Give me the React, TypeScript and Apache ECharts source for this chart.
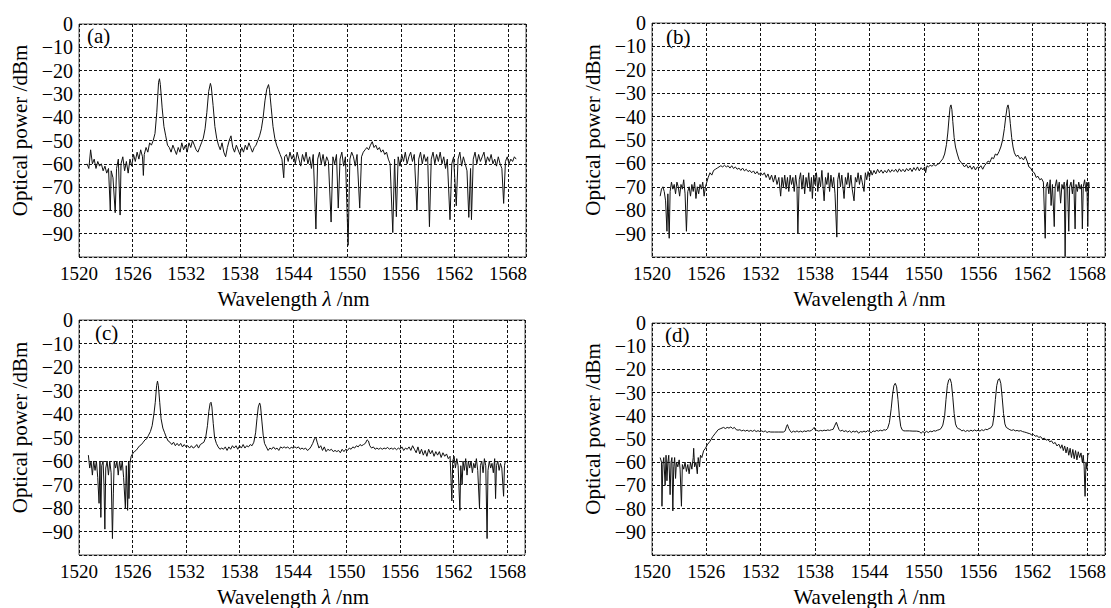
import React, { useEffect, useRef } from "react";
import * as echarts from "echarts";

const X_MIN = 1520;
const X_MAX = 1570;
const X_STEP = 6;
const Y_MIN = -100;
const Y_MAX = 0;
const Y_STEP = 10;
const PANEL_LABELS = ["(a)", "(b)", "(c)", "(d)"];
const X_NAME_PARTS = ["Wavelength ", "λ", " /nm"];
const Y_NAME = "Optical power /dBm";

const spectrumA: [number, number][] = [
  [1520.9, -60], [1521.1, -62], [1521.3, -54], [1521.5, -60], [1521.7, -58], [1521.9, -62], [1522.1, -59], [1522.3, -61],
  [1522.5, -60], [1522.7, -63], [1522.9, -61], [1523.1, -64], [1523.3, -62], [1523.5, -80], [1523.6, -63], [1523.8, -66],
  [1524.05, -81], [1524.2, -62], [1524.4, -58], [1524.6, -82], [1524.7, -60], [1524.9, -57], [1525.1, -63], [1525.3, -59],
  [1525.5, -64], [1525.7, -58], [1525.9, -61], [1526.1, -56], [1526.3, -59], [1526.5, -55], [1526.7, -58], [1526.9, -54],
  [1527.1, -57], [1527.2, -65], [1527.3, -56], [1527.5, -53], [1527.7, -55], [1527.9, -51], [1528.1, -52], [1528.3, -50],
  [1528.5, -47], [1528.7, -38], [1528.9, -25], [1529.0, -23.5], [1529.1, -26], [1529.3, -36], [1529.5, -44], [1529.7, -48],
  [1529.9, -52], [1530.1, -53], [1530.3, -55], [1530.5, -52], [1530.7, -54], [1530.9, -56], [1531.1, -53], [1531.3, -55],
  [1531.5, -51], [1531.7, -54], [1531.9, -52], [1532.1, -55], [1532.3, -51], [1532.5, -53], [1532.7, -50], [1532.9, -52],
  [1533.1, -54], [1533.3, -55], [1533.5, -53], [1533.7, -51], [1533.9, -49], [1534.1, -45], [1534.3, -38], [1534.5, -29],
  [1534.7, -25.5], [1534.8, -27], [1535.0, -35], [1535.2, -44], [1535.4, -49], [1535.6, -52], [1535.8, -54], [1536.0, -51],
  [1536.2, -55], [1536.4, -57], [1536.6, -53], [1536.8, -50], [1537.0, -48], [1537.2, -53], [1537.4, -55], [1537.6, -52],
  [1537.8, -54], [1538.0, -56], [1538.2, -53], [1538.4, -55], [1538.6, -52], [1538.8, -54], [1539.0, -51], [1539.2, -53],
  [1539.4, -55], [1539.6, -53], [1539.8, -52], [1540.0, -50], [1540.2, -48], [1540.4, -45], [1540.6, -40], [1540.8, -33],
  [1541.0, -28], [1541.2, -26], [1541.3, -28], [1541.5, -36], [1541.7, -44], [1541.9, -49], [1542.1, -52], [1542.3, -54],
  [1542.5, -56], [1542.7, -58], [1542.9, -66], [1543.0, -57], [1543.2, -56], [1543.4, -59], [1543.6, -55], [1543.8, -58],
  [1544.0, -56], [1544.2, -60], [1544.4, -55], [1544.6, -58], [1544.8, -61], [1545.0, -56], [1545.2, -59], [1545.4, -55],
  [1545.6, -60], [1545.8, -57], [1546.0, -62], [1546.2, -56], [1546.5, -88], [1546.7, -58], [1546.9, -55], [1547.1, -60],
  [1547.3, -56], [1547.5, -61], [1547.7, -57], [1547.9, -59], [1548.2, -85], [1548.4, -57], [1548.6, -60], [1548.8, -56],
  [1549.0, -79], [1549.2, -58], [1549.4, -55], [1549.6, -61], [1549.8, -57], [1550.1, -95], [1550.3, -58], [1550.5, -55],
  [1550.7, -57], [1550.9, -61], [1551.1, -56], [1551.4, -79], [1551.6, -57], [1551.8, -55], [1552.0, -54], [1552.2, -53],
  [1552.4, -54], [1552.6, -52], [1552.8, -50.5], [1553.0, -53], [1553.2, -52], [1553.4, -54], [1553.6, -53], [1553.8, -55],
  [1554.0, -54], [1554.2, -56], [1554.4, -55], [1554.6, -58], [1554.8, -60], [1555.1, -89.5], [1555.3, -58], [1555.5, -82.7],
  [1555.7, -57], [1555.9, -61], [1556.1, -56], [1556.3, -59], [1556.5, -55], [1556.7, -60], [1556.9, -57], [1557.1, -55],
  [1557.3, -59], [1557.5, -56], [1557.8, -80], [1558.0, -58], [1558.2, -55], [1558.4, -60], [1558.6, -56], [1558.8, -59],
  [1559.0, -57], [1559.2, -87], [1559.4, -58], [1559.6, -55], [1559.8, -60], [1560.0, -56], [1560.2, -59], [1560.4, -55],
  [1560.6, -60], [1560.8, -57], [1561.0, -62], [1561.2, -58], [1561.5, -84], [1561.7, -60], [1561.9, -57], [1562.2, -78],
  [1562.4, -58], [1562.6, -55], [1562.8, -61], [1563.0, -57], [1563.2, -60], [1563.4, -63], [1563.6, -83], [1563.8, -62],
  [1563.9, -84], [1564.1, -58], [1564.3, -55], [1564.5, -60], [1564.7, -56], [1564.9, -59], [1565.1, -57], [1565.3, -55],
  [1565.5, -60], [1565.7, -57], [1565.9, -59], [1566.1, -56], [1566.3, -60], [1566.5, -58], [1566.7, -61], [1566.9, -57],
  [1567.1, -60], [1567.3, -62], [1567.5, -77], [1567.7, -59], [1567.9, -57], [1568.1, -60], [1568.3, -58], [1568.5, -59],
  [1568.7, -57], [1568.9, -58],
];

const spectrumB: [number, number][] = [
  [1520.9, -74], [1521.05, -71], [1521.2, -70], [1521.35, -72], [1521.5, -76], [1521.65, -89], [1521.75, -73], [1521.9, -92],
  [1522.0, -72], [1522.15, -68], [1522.3, -71], [1522.45, -69], [1522.6, -73], [1522.75, -68], [1522.9, -70], [1523.05, -74],
  [1523.2, -69], [1523.35, -71], [1523.5, -67], [1523.65, -73], [1523.8, -89], [1523.95, -72], [1524.1, -70], [1524.25, -74],
  [1524.4, -69], [1524.55, -72], [1524.7, -68], [1524.85, -75], [1525.0, -70], [1525.15, -73], [1525.3, -69], [1525.45, -71],
  [1525.6, -68], [1525.75, -74], [1525.9, -70], [1526.05, -68], [1526.2, -66], [1526.4, -64], [1526.6, -65], [1526.8, -63],
  [1527.0, -62.5], [1527.2, -62], [1527.4, -61.5], [1527.6, -61], [1527.8, -61.5], [1528.0, -60.8], [1528.2, -61.5], [1528.4, -61],
  [1528.6, -62], [1528.8, -61], [1529.0, -62.2], [1529.2, -61.5], [1529.4, -62.5], [1529.6, -62], [1529.8, -63], [1530.0, -62],
  [1530.2, -63.2], [1530.4, -62.5], [1530.6, -63.5], [1530.8, -63], [1531.0, -64], [1531.2, -63.2], [1531.4, -64.5], [1531.6, -63.5],
  [1531.8, -64.8], [1532.0, -64], [1532.2, -65], [1532.4, -64], [1532.6, -66], [1532.8, -64.5], [1533.0, -67], [1533.2, -65],
  [1533.4, -68], [1533.6, -65], [1533.8, -69], [1534.0, -66], [1534.2, -74], [1534.35, -66], [1534.5, -70], [1534.65, -65],
  [1534.8, -71], [1534.95, -66], [1535.1, -72], [1535.25, -65], [1535.4, -69], [1535.55, -66], [1535.7, -72], [1535.85, -65],
  [1536.0, -70], [1536.1, -90], [1536.25, -67], [1536.4, -64], [1536.55, -71], [1536.7, -65], [1536.85, -73], [1537.0, -66],
  [1537.15, -70], [1537.3, -64], [1537.45, -72], [1537.6, -66], [1537.7, -75], [1537.85, -65], [1538.0, -69], [1538.15, -64],
  [1538.3, -72], [1538.45, -66], [1538.6, -70], [1538.75, -63], [1538.9, -71], [1539.0, -76], [1539.15, -66], [1539.3, -69],
  [1539.45, -64], [1539.6, -72], [1539.75, -65], [1539.9, -70], [1540.05, -66], [1540.2, -73], [1540.4, -91.5], [1540.5, -67],
  [1540.65, -64], [1540.8, -70], [1540.95, -65], [1541.1, -71], [1541.2, -75], [1541.35, -66], [1541.5, -69], [1541.65, -64],
  [1541.8, -70], [1541.95, -65], [1542.1, -71], [1542.3, -76], [1542.45, -66], [1542.6, -68], [1542.75, -64], [1542.9, -69],
  [1543.05, -65], [1543.2, -68], [1543.4, -72], [1543.55, -64], [1543.7, -67], [1543.85, -63.5], [1544.0, -66], [1544.15, -63],
  [1544.3, -65], [1544.5, -63], [1544.7, -64.5], [1544.9, -62.5], [1545.1, -64], [1545.3, -62.8], [1545.5, -64.2], [1545.7, -63],
  [1545.9, -64], [1546.1, -62.5], [1546.3, -63.8], [1546.5, -62.7], [1546.7, -63.5], [1546.9, -62.5], [1547.1, -63.8], [1547.3, -62.3],
  [1547.5, -63.5], [1547.7, -62.5], [1547.9, -63.6], [1548.1, -62.2], [1548.3, -63.2], [1548.5, -62], [1548.7, -63.5], [1548.9, -61.8],
  [1549.1, -63], [1549.3, -61.5], [1549.5, -63.2], [1549.7, -61.8], [1549.9, -62.8], [1550.1, -61.5], [1550.2, -64], [1550.35, -61],
  [1550.5, -61.5], [1550.7, -60.8], [1550.9, -61.2], [1551.1, -60.5], [1551.3, -61], [1551.5, -60.5], [1551.7, -60], [1551.9, -59],
  [1552.1, -58], [1552.3, -56], [1552.5, -52], [1552.65, -47], [1552.8, -40], [1552.9, -36], [1553.0, -35], [1553.1, -37],
  [1553.2, -42], [1553.35, -49], [1553.5, -53], [1553.7, -56], [1553.9, -58.5], [1554.1, -59.5], [1554.3, -60.5], [1554.5, -61.5],
  [1554.7, -60.5], [1554.9, -62], [1555.1, -61], [1555.3, -62.5], [1555.5, -61.2], [1555.7, -62.8], [1555.9, -61.5], [1556.1, -62],
  [1556.3, -61], [1556.5, -62.5], [1556.7, -61], [1556.9, -60], [1557.1, -59], [1557.3, -59.5], [1557.5, -57.5], [1557.7, -58],
  [1557.9, -56], [1558.1, -56.5], [1558.3, -55], [1558.5, -53], [1558.7, -50], [1558.9, -45], [1559.05, -40], [1559.2, -36],
  [1559.3, -35], [1559.4, -37], [1559.55, -43], [1559.7, -49], [1559.85, -53], [1560.0, -55.5], [1560.2, -57], [1560.4, -56.5],
  [1560.6, -58], [1560.8, -57.5], [1561.0, -58.5], [1561.2, -57], [1561.4, -59], [1561.6, -61.5], [1561.8, -62], [1562.0, -63.5],
  [1562.2, -64], [1562.4, -66], [1562.6, -65.5], [1562.8, -67], [1563.0, -66.5], [1563.2, -68], [1563.4, -92], [1563.5, -70],
  [1563.65, -68], [1563.8, -73], [1563.95, -67], [1564.05, -78], [1564.2, -69], [1564.4, -87], [1564.5, -70], [1564.65, -67],
  [1564.8, -72], [1564.95, -68], [1565.1, -77], [1565.25, -69], [1565.4, -71], [1565.5, -68], [1565.6, -99.8], [1565.7, -70],
  [1565.85, -67], [1566.0, -89], [1566.1, -70], [1566.25, -68], [1566.4, -73], [1566.55, -67], [1566.7, -88], [1566.8, -69],
  [1566.95, -72], [1567.1, -68], [1567.25, -71], [1567.4, -69], [1567.5, -88], [1567.6, -70], [1567.75, -67], [1567.9, -72],
  [1568.0, -68], [1568.1, -87], [1568.2, -68], [1568.25, -70],
];

const spectrumC: [number, number][] = [
  [1521.05, -57.5], [1521.2, -63], [1521.35, -60], [1521.5, -66], [1521.65, -60], [1521.8, -64], [1521.95, -60], [1522.1, -67],
  [1522.25, -78], [1522.35, -60], [1522.45, -84], [1522.55, -62], [1522.7, -60], [1522.8, -70], [1522.9, -89], [1523.0, -63],
  [1523.15, -60], [1523.3, -66], [1523.45, -60], [1523.6, -65], [1523.75, -93], [1523.85, -74], [1523.95, -60], [1524.1, -63],
  [1524.25, -60], [1524.4, -66], [1524.55, -60], [1524.7, -64], [1524.85, -60], [1525.0, -67], [1525.2, -80], [1525.3, -62],
  [1525.45, -81], [1525.55, -60], [1525.6, -76], [1525.7, -61], [1525.85, -58], [1526.0, -57], [1526.2, -56], [1526.4, -55.5],
  [1526.6, -54.5], [1526.8, -53.5], [1527.0, -53], [1527.2, -52], [1527.4, -51], [1527.6, -50.5], [1527.8, -49], [1528.0, -47.5],
  [1528.2, -45], [1528.4, -40], [1528.55, -35], [1528.7, -28], [1528.8, -26], [1528.9, -28], [1529.05, -35], [1529.2, -42],
  [1529.4, -46], [1529.6, -48], [1529.8, -50], [1530.0, -51.5], [1530.2, -52], [1530.4, -53], [1530.6, -52], [1530.8, -53.5],
  [1531.0, -52.5], [1531.2, -53.5], [1531.4, -52.5], [1531.6, -54], [1531.8, -53], [1532.0, -54], [1532.2, -53.5], [1532.4, -54.5],
  [1532.6, -53.5], [1532.8, -54.5], [1533.0, -54], [1533.2, -53], [1533.4, -54.5], [1533.6, -53], [1533.8, -52.5], [1534.0, -52],
  [1534.2, -50], [1534.4, -45], [1534.55, -39], [1534.7, -35.5], [1534.8, -35], [1534.9, -37], [1535.05, -44], [1535.2, -50],
  [1535.4, -52.5], [1535.6, -54], [1535.8, -55], [1536.0, -54.5], [1536.2, -55], [1536.4, -54], [1536.6, -55.5], [1536.8, -54],
  [1537.0, -55], [1537.2, -53.5], [1537.4, -54.5], [1537.6, -53.5], [1537.8, -55], [1538.0, -53.5], [1538.2, -54.5], [1538.4, -53],
  [1538.6, -54.5], [1538.8, -53.5], [1539.0, -54], [1539.2, -53], [1539.4, -53.5], [1539.6, -52], [1539.8, -48], [1539.95, -42],
  [1540.1, -37], [1540.25, -35.3], [1540.35, -36.5], [1540.5, -43], [1540.65, -49], [1540.8, -52.5], [1541.0, -54], [1541.2, -55.5],
  [1541.4, -54.5], [1541.6, -55], [1541.8, -54], [1542.0, -55], [1542.2, -54.5], [1542.4, -55.5], [1542.6, -54], [1542.8, -54.5],
  [1543.0, -54], [1543.2, -54.5], [1543.4, -54], [1543.6, -54.8], [1543.8, -54.2], [1544.0, -54.5], [1544.2, -54], [1544.4, -54.5],
  [1544.6, -54], [1544.8, -55], [1545.0, -54.5], [1545.2, -55], [1545.4, -54.5], [1545.6, -55.5], [1545.8, -55], [1546.0, -54],
  [1546.2, -52.5], [1546.4, -50.5], [1546.55, -50], [1546.7, -52], [1546.9, -54.5], [1547.1, -53.5], [1547.3, -55.5], [1547.5, -54],
  [1547.7, -56], [1547.9, -55], [1548.1, -55.5], [1548.3, -55], [1548.5, -56], [1548.7, -55.5], [1548.9, -56], [1549.1, -55.5],
  [1549.3, -56.5], [1549.5, -55], [1549.7, -56], [1549.9, -55], [1550.1, -55.5], [1550.3, -54.5], [1550.5, -55], [1550.7, -54],
  [1550.9, -54.5], [1551.1, -53.5], [1551.3, -54], [1551.5, -53], [1551.7, -53.5], [1551.9, -53], [1552.1, -52.5], [1552.3, -51],
  [1552.45, -51.5], [1552.6, -53.5], [1552.8, -54.5], [1553.0, -54], [1553.2, -55], [1553.4, -54.5], [1553.6, -55], [1553.8, -54.5],
  [1554.0, -55], [1554.2, -54.5], [1554.4, -54.8], [1554.6, -54.2], [1554.8, -55], [1555.0, -54.5], [1555.2, -55], [1555.4, -54.5],
  [1555.6, -55.2], [1555.8, -54.5], [1556.0, -55], [1556.2, -54], [1556.4, -55.5], [1556.6, -54.5], [1556.8, -55], [1557.0, -54],
  [1557.2, -55.5], [1557.4, -53.5], [1557.6, -55], [1557.8, -56.5], [1558.0, -54], [1558.2, -57], [1558.4, -55], [1558.6, -57.5],
  [1558.8, -55.5], [1559.0, -58], [1559.2, -55], [1559.4, -57], [1559.6, -55.5], [1559.8, -58], [1560.0, -56], [1560.2, -57.5],
  [1560.4, -56], [1560.6, -58.5], [1560.8, -56.5], [1561.0, -58], [1561.2, -57], [1561.4, -59], [1561.6, -58], [1561.8, -77],
  [1561.9, -60], [1562.05, -58], [1562.2, -63], [1562.35, -59], [1562.5, -62], [1562.7, -81], [1562.8, -62], [1562.95, -70],
  [1563.05, -60], [1563.2, -64], [1563.35, -59], [1563.5, -66], [1563.65, -60], [1563.8, -63], [1563.95, -60], [1564.1, -65],
  [1564.25, -61], [1564.4, -63], [1564.55, -59], [1564.7, -64], [1564.9, -80], [1565.0, -62], [1565.15, -60], [1565.3, -65],
  [1565.45, -59], [1565.6, -62], [1565.75, -93], [1565.85, -64], [1566.0, -60], [1566.15, -63], [1566.3, -61], [1566.45, -65],
  [1566.6, -59], [1566.7, -76], [1566.8, -62], [1566.95, -60], [1567.1, -64], [1567.25, -61], [1567.4, -63], [1567.6, -75],
  [1567.7, -62], [1567.8, -60],
];

const spectrumD: [number, number][] = [
  [1520.9, -58], [1521.05, -60], [1521.1, -79], [1521.2, -61], [1521.3, -58], [1521.45, -70], [1521.55, -57], [1521.65, -68],
  [1521.75, -60], [1521.85, -57], [1522.0, -74], [1522.1, -60], [1522.2, -58], [1522.3, -81], [1522.4, -62], [1522.5, -58],
  [1522.6, -67], [1522.7, -60], [1522.85, -62], [1523.0, -59], [1523.1, -63], [1523.25, -79], [1523.35, -61], [1523.5, -63],
  [1523.65, -60], [1523.8, -64], [1523.95, -61], [1524.1, -65], [1524.25, -60], [1524.4, -63], [1524.55, -58], [1524.6, -54],
  [1524.7, -62], [1524.85, -60], [1525.0, -65], [1525.1, -58], [1525.25, -62], [1525.35, -57], [1525.5, -58], [1525.7, -55],
  [1525.9, -54], [1526.1, -52.5], [1526.4, -51], [1526.7, -49], [1527.0, -47.5], [1527.3, -46], [1527.6, -45.5], [1527.9, -45],
  [1528.1, -45.5], [1528.3, -45], [1528.5, -45.3], [1528.7, -44.8], [1528.9, -45.5], [1529.1, -45], [1529.3, -46], [1529.5, -46.2],
  [1529.7, -46], [1529.9, -46.5], [1530.1, -46.2], [1530.3, -46.6], [1530.5, -46.2], [1530.7, -46.7], [1530.9, -46.3], [1531.1, -46.7],
  [1531.3, -46.2], [1531.5, -46.8], [1531.7, -46.4], [1531.9, -46.8], [1532.1, -46.5], [1532.3, -46.9], [1532.5, -46.5], [1532.7, -47.2],
  [1532.9, -46.8], [1533.1, -47], [1533.5, -47], [1534.0, -47], [1534.5, -47], [1534.7, -46.5], [1534.85, -44.5], [1534.95, -43.8],
  [1535.1, -45.5], [1535.25, -46.5], [1535.4, -47.2], [1535.6, -46.6], [1535.8, -47], [1536.0, -46.5], [1536.2, -47], [1536.4, -46.6],
  [1536.6, -47], [1536.8, -46.5], [1537.0, -46.8], [1537.2, -46.4], [1537.4, -46.6], [1537.6, -46.3], [1537.8, -45.5], [1537.9, -45],
  [1538.0, -46], [1538.2, -46.3], [1538.4, -46.6], [1538.6, -46.3], [1538.8, -46.5], [1539.0, -46.2], [1539.2, -46.4], [1539.4, -46.1],
  [1539.6, -46.3], [1539.8, -46], [1540.0, -45.8], [1540.2, -44], [1540.35, -42.8], [1540.5, -44.5], [1540.65, -46], [1540.8, -46.6],
  [1541.0, -46.2], [1541.2, -46.8], [1541.4, -46.4], [1541.6, -47], [1541.8, -46.5], [1542.0, -47.2], [1542.2, -46.6], [1542.4, -47],
  [1542.6, -46.5], [1542.8, -47.5], [1543.0, -46.8], [1543.2, -47], [1543.4, -46.6], [1543.6, -47], [1543.8, -46.4], [1544.0, -46.8],
  [1544.2, -47.3], [1544.4, -46.5], [1544.6, -46.8], [1544.8, -46.3], [1545.0, -46.6], [1545.2, -46.2], [1545.4, -46.5], [1545.6, -46],
  [1545.8, -46.2], [1546.0, -45.5], [1546.2, -43], [1546.4, -37], [1546.55, -31], [1546.7, -27], [1546.85, -26], [1547.0, -27.5],
  [1547.15, -33], [1547.3, -40], [1547.45, -44.5], [1547.6, -46], [1547.8, -46.5], [1548.0, -46.5], [1548.4, -46.5], [1548.8, -46.6],
  [1549.2, -46.6], [1549.5, -46.8], [1549.7, -47.5], [1549.9, -46.8], [1550.1, -47.3], [1550.3, -46.7], [1550.5, -47.2], [1550.7, -46.6],
  [1550.9, -46.9], [1551.1, -46.4], [1551.3, -46.6], [1551.5, -46.2], [1551.7, -46], [1551.9, -45.5], [1552.1, -44], [1552.3, -40],
  [1552.45, -33], [1552.6, -27], [1552.75, -24.5], [1552.9, -24], [1553.05, -26], [1553.2, -32], [1553.35, -39], [1553.5, -43.5],
  [1553.65, -45], [1553.8, -45.5], [1554.0, -45.8], [1554.2, -46.5], [1554.4, -46.2], [1554.6, -46.8], [1554.8, -46.3], [1555.0, -46.7],
  [1555.2, -46.2], [1555.4, -46.6], [1555.6, -46.1], [1555.8, -46.5], [1556.0, -46.2], [1556.2, -46.6], [1556.4, -46], [1556.6, -46.4],
  [1556.8, -45.8], [1557.0, -46], [1557.2, -45.5], [1557.4, -45.2], [1557.6, -44], [1557.75, -40], [1557.9, -33], [1558.05, -27],
  [1558.2, -24.5], [1558.35, -24], [1558.5, -26], [1558.65, -32], [1558.8, -39], [1558.95, -43.5], [1559.1, -45], [1559.3, -45.5],
  [1559.5, -46], [1559.7, -46.3], [1559.9, -46], [1560.1, -46.5], [1560.3, -46.3], [1560.5, -46.6], [1560.7, -46.4], [1560.9, -46.8],
  [1561.1, -47], [1561.3, -47.2], [1561.5, -47.5], [1561.7, -47.7], [1561.9, -48.2], [1562.1, -48], [1562.3, -48.8], [1562.5, -48.6],
  [1562.7, -49.3], [1562.9, -49], [1563.1, -50], [1563.3, -49.6], [1563.5, -50.5], [1563.7, -50.2], [1563.9, -51.2], [1564.1, -50.8],
  [1564.3, -52], [1564.5, -51.5], [1564.7, -53], [1564.9, -52.2], [1565.1, -54], [1565.25, -52.5], [1565.4, -55], [1565.55, -53],
  [1565.7, -56], [1565.85, -53.5], [1566.0, -57], [1566.15, -54], [1566.3, -58], [1566.45, -54.5], [1566.6, -58.5], [1566.75, -55],
  [1566.9, -59], [1567.05, -55.5], [1567.2, -58], [1567.35, -56], [1567.5, -60], [1567.6, -57], [1567.7, -62], [1567.8, -74.7],
  [1567.9, -60], [1568.0, -63], [1568.1, -57], [1568.25, -56],
];

const SPECTRA = [spectrumA, spectrumB, spectrumC, spectrumD];

// layout (pixels)
const GRIDS = [
  { left: 79, top: 24, width: 447, height: 233 },
  { left: 652, top: 23, width: 453, height: 234 },
  { left: 79, top: 320, width: 446, height: 240 },
  { left: 652, top: 323, width: 453, height: 236 },
];
const LABEL_OFFSETS = [
  [8, 1],
  [14, 3],
  [16, 2],
  [13, 1],
];

const FONT = "Liberation Serif";

export default function App() {
  const ref = useRef<HTMLDivElement>(null);
  useEffect(() => {
    if (!ref.current) return;
    const chart = echarts.init(ref.current, undefined, { renderer: "svg" });
    const xFmt = (v: number) => (v > 1568.5 ? "" : String(Math.round(v)));
    const yFmt = (v: number) =>
      v <= -100 ? "" : v === 0 ? "0" : "\u2212" + Math.abs(v);

    const option: any = {
      animation: false,
      backgroundColor: "#ffffff",
      textStyle: { fontFamily: FONT, color: "#000" },
      grid: GRIDS.map((g) => ({
        ...g,
        show: true,
        borderColor: "#555",
        borderWidth: 1,
        backgroundColor: "transparent",
        containLabel: false,
      })),
      xAxis: GRIDS.map((_, i) => ({
        type: "value",
        gridIndex: i,
        min: X_MIN,
        max: X_MAX,
        interval: X_STEP,
        axisLine: { show: false },
        axisTick: { show: false },
        splitLine: {
          show: true,
          lineStyle: { color: "#111", type: [3, 2], width: 1 },
        },
        axisLabel: {
          formatter: xFmt,
          fontFamily: FONT,
          fontSize: 19,
          color: "#000",
          margin: 7,
        },
        name: `{n|${X_NAME_PARTS[0]}}{l|${X_NAME_PARTS[1]}}{n|${X_NAME_PARTS[2]}}`,
        nameLocation: "middle",
        nameGap: 31,
        nameTextStyle: {
          fontFamily: FONT,
          fontSize: 21,
          color: "#000",
          padding: [0, 18, 0, 0],
          rich: {
            n: { fontFamily: FONT, fontSize: 21, color: "#000" },
            l: { fontFamily: FONT, fontSize: 21, color: "#000", fontStyle: "italic" },
          },
        },
      })),
      yAxis: GRIDS.map((_, i) => ({
        type: "value",
        gridIndex: i,
        min: Y_MIN,
        max: Y_MAX,
        interval: Y_STEP,
        axisLine: { show: false },
        axisTick: { show: false },
        splitLine: {
          show: true,
          lineStyle: { color: "#111", type: [3, 2], width: 1 },
        },
        axisLabel: {
          formatter: yFmt,
          fontFamily: FONT,
          fontSize: 20,
          color: "#000",
          margin: 6,
        },
        name: Y_NAME,
        nameLocation: "middle",
        nameRotate: 90,
        nameGap: 49,
        nameTextStyle: {
          fontFamily: FONT,
          fontSize: 21,
          color: "#000",
          padding: [0, 0, 0, 20],
        },
      })),
      series: SPECTRA.map((d, i) => ({
        type: "line",
        xAxisIndex: i,
        yAxisIndex: i,
        data: d,
        showSymbol: false,
        symbol: "none",
        silent: true,
        clip: true,
        lineStyle: { color: "#111", width: 1 },
      })),
      graphic: PANEL_LABELS.map((t, i) => ({
        type: "text",
        left: GRIDS[i].left + LABEL_OFFSETS[i][0],
        top: GRIDS[i].top + LABEL_OFFSETS[i][1],
        silent: true,
        style: {
          text: t,
          fontFamily: FONT,
          fontSize: 21,
          fill: "#000",
        },
      })),
    };
    chart.setOption(option);
    return () => chart.dispose();
  }, []);

  return (
    <div
      ref={ref}
      style={{ position: "absolute", left: 0, top: 0, width: 1111, height: 608, background: "#fff" }}
    />
  );
}
